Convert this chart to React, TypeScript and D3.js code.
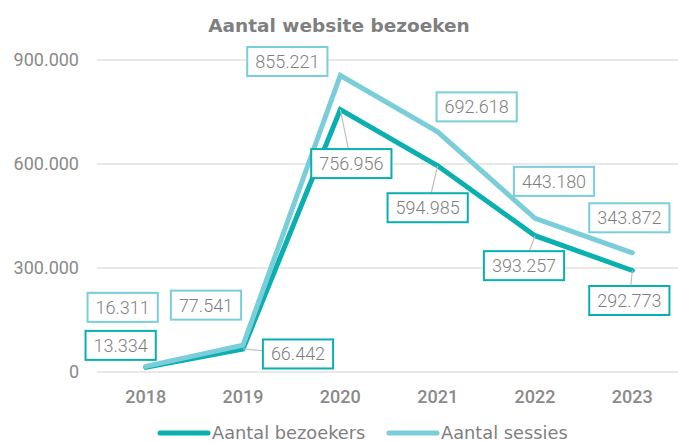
import React, { useEffect, useRef } from 'react';
import * as d3 from 'd3';

const years = ['2018', '2019', '2020', '2021', '2022', '2023'];
const bezoekers = [13334, 66442, 756956, 594985, 393257, 292773];
const sessies = [16311, 77541, 855221, 692618, 443180, 343872];
const yTicks = [0, 300000, 600000, 900000];

// offset of each data label box centre from its point, plus whether a leader line shows
const bezoekersLabels = [
  { dx: -25, dy: -22, leader: false },
  { dx: 55, dy: 5, leader: true },
  { dx: 11, dy: 54, leader: true },
  { dx: -10, dy: 42, leader: true },
  { dx: -11, dy: 30, leader: true },
  { dx: -3, dy: 30, leader: true },
];
const sessiesLabels = [
  { dx: -23, dy: -59, leader: false },
  { dx: -37, dy: -40, leader: false },
  { dx: -53, dy: -14, leader: false },
  { dx: 39, dy: -25, leader: false },
  { dx: 19, dy: -37, leader: false },
  { dx: -3, dy: -35, leader: false },
];

const DARK = '#0aafaf';
const LIGHT = '#79ced9';
const GREY = '#8a8a8a';

const locale = d3.formatLocale({ decimal: ',', thousands: '.', grouping: [3], currency: ['€', ''] });
const fmt = locale.format(',.0f');

function App() {
  const ref = useRef<SVGSVGElement>(null);

  function drawChart() {
    const width = 678;
    const height = 442;
    const svg = d3.select(ref.current);
    svg.selectAll('*').remove();
    svg.attr('width', width).attr('height', height);

    const x = d3.scaleBand().domain(years).range([97, 681]).padding(0);
    const y = d3.scaleLinear().domain([0, 900000]).range([372, 60]);
    const cx = (d: string) => (x(d) as number) + x.bandwidth() / 2;

    // title
    svg.append('text')
      .attr('x', 339)
      .attr('y', 32)
      .attr('text-anchor', 'middle')
      .style('font-family', 'DejaVu Sans')
      .style('font-weight', 'bold')
      .style('font-size', '18.5px')
      .attr('fill', '#7f7f7f')
      .text('Aantal website bezoeken');

    // gridlines + y labels
    const grid = svg.append('g');
    grid.selectAll('line')
      .data(yTicks)
      .enter()
      .append('line')
        .attr('x1', 97)
        .attr('x2', width)
        .attr('y1', d => y(d))
        .attr('y2', d => y(d))
        .attr('stroke', '#e2e2e2')
        .attr('stroke-width', 1.5);
    grid.selectAll('text')
      .data(yTicks)
      .enter()
      .append('text')
        .attr('x', 79)
        .attr('y', d => y(d))
        .attr('dy', '0.36em')
        .attr('text-anchor', 'end')
        .style('font-family', 'Roboto')
        .style('font-size', '18px')
        .attr('fill', GREY)
        .text(d => fmt(d));

    // x labels
    svg.append('g').selectAll('text')
      .data(years)
      .enter()
      .append('text')
        .attr('x', d => cx(d))
        .attr('y', 403)
        .attr('text-anchor', 'middle')
        .style('font-family', 'Roboto')
        .style('font-weight', '500')
        .style('font-size', '18px')
        .attr('fill', GREY)
        .text(d => d);

    const line = d3.line<number>()
      .x((d, i) => cx(years[i]))
      .y(d => y(d));

    const series = [
      { values: bezoekers, color: DARK, labels: bezoekersLabels },
      { values: sessies, color: LIGHT, labels: sessiesLabels },
    ];

    series.forEach(s => {
      svg.append('path')
        .attr('d', line(s.values))
        .attr('fill', 'none')
        .attr('stroke', s.color)
        .attr('stroke-width', 5)
        .attr('stroke-linecap', 'round')
        .attr('stroke-linejoin', 'miter');
    });

    // data labels
    series.forEach(s => {
      s.values.forEach((v, i) => {
        const px = cx(years[i]);
        const py = y(v);
        const lab = s.labels[i];
        const bx = px + lab.dx;
        const by = py + lab.dy;
        const g = svg.append('g');
        const rect = g.append('rect');
        const t = g.append('text')
          .attr('x', bx)
          .attr('y', by)
          .attr('dy', '0.36em')
          .attr('text-anchor', 'middle')
          .style('font-family', 'Roboto')
          .style('font-weight', '300')
          .style('font-size', '18px')
          .attr('fill', '#7f7f7f')
          .text(fmt(v));
        const tw = (t.node() as SVGTextElement).getComputedTextLength();
        const bw = tw + 16;
        const bh = 29;
        rect.attr('x', bx - bw / 2)
          .attr('y', by - bh / 2)
          .attr('width', bw)
          .attr('height', bh)
          .attr('fill', '#fff')
          .attr('stroke', s.color)
          .attr('stroke-width', 2);
        if (lab.leader) {
          // clip the segment point -> box centre at the box edge
          const ddx = bx - px;
          const ddy = by - py;
          const tx = ddx !== 0 ? (Math.abs(ddx) - bw / 2) / Math.abs(ddx) : Infinity;
          const ty = ddy !== 0 ? (Math.abs(ddy) - bh / 2) / Math.abs(ddy) : Infinity;
          const tt = Math.max(Math.min(tx < 0 ? Infinity : tx, ty < 0 ? Infinity : ty) === Infinity ? 0 : Math.max(tx, ty), 0);
          svg.insert('line', () => g.node())
            .attr('x1', px)
            .attr('y1', py)
            .attr('x2', px + ddx * tt)
            .attr('y2', py + ddy * tt)
            .attr('stroke', '#bfbfbf')
            .attr('stroke-width', 1.2);
        }
      });
    });

    // legend
    const legend = [
      { name: 'Aantal bezoekers', color: DARK, x: 160 },
      { name: 'Aantal sessies', color: LIGHT, x: 389 },
    ];
    const lg = svg.append('g').selectAll('g')
      .data(legend)
      .enter()
      .append('g');
    lg.append('line')
      .attr('x1', d => d.x)
      .attr('x2', d => d.x + 48)
      .attr('y1', 433)
      .attr('y2', 433)
      .attr('stroke', d => d.color)
      .attr('stroke-width', 5)
      .attr('stroke-linecap', 'round');
    lg.append('text')
      .attr('x', d => d.x + 52)
      .attr('y', 439)
      .style('font-family', 'DejaVu Sans')
      .style('font-size', '17.8px')
      .attr('fill', '#7f7f7f')
      .text(d => d.name);
  }

  useEffect(() => {
    drawChart();
  }, []);

  return (
    <svg ref={ref} style={{ position: 'absolute', left: 0, top: 0, display: 'block' }}></svg>
  );
}

export default App;
